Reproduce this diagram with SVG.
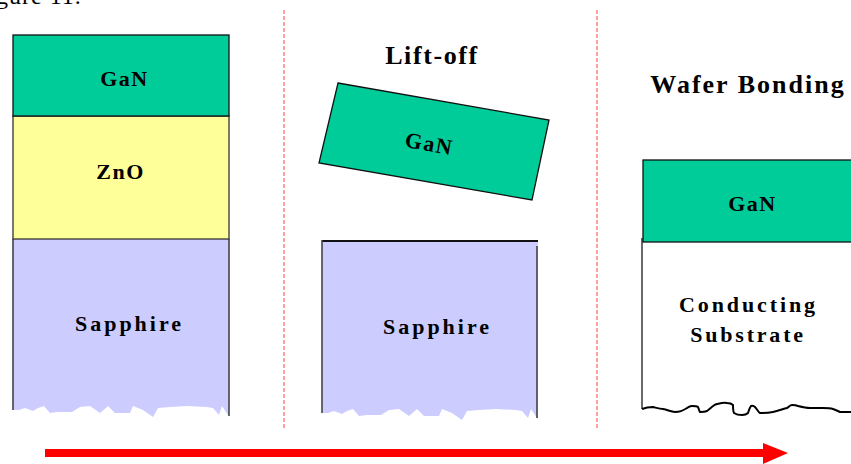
<svg xmlns="http://www.w3.org/2000/svg" width="851" height="464" viewBox="0 0 851 464">
<style>
.lbl{font-family:"Liberation Serif","Times New Roman",serif;font-weight:bold;fill:#000;text-anchor:middle}
.gan{fill:#00CC99;stroke:#111;stroke-width:1.3}
.zno{fill:#FFFF99;stroke:#333;stroke-width:1.3}
.sap{fill:#CCCCFF;stroke:none}
.edge{stroke:#444;stroke-width:1.6;fill:none}
.sep{stroke:#FF8080;stroke-width:1.5;stroke-dasharray:4 2;fill:none}
</style>
<defs>
<path id="jag" d="M0,0 H216 V177 L215,176 L209,167 L206,176 L200,169 L194,168 L174,167 L157,168 L145,169 L140,178 L130,171 L120,167 L117,174 L102,174 L95,167 L87,174 L77,167 L67,168 L59,173 L45,173 L37,174 L31,167 L25,169 L20,172 L12,169 L6,171 L0,171 Z"/>
</defs>
<text x="-4" y="4" style="font-family:'Liberation Serif',serif;font-size:24px;letter-spacing:1px;fill:#000">gure 11.</text>
<g id="separators">
<line class="sep" x1="284" y1="10" x2="284" y2="428"/>
<line class="sep" x1="597" y1="10" x2="597" y2="428"/>
</g>
<g id="panel1">
<g id="sapphire1">
<use href="#jag" x="13" y="239" class="sap"/>
<line class="edge" x1="13" y1="239" x2="13" y2="410"/>
<line class="edge" x1="229" y1="239" x2="229" y2="416"/>
<text class="lbl" x="129.5" y="331" style="font-size:22px;letter-spacing:3px">Sapphire</text>
</g>
<g id="zno1">
<rect class="zno" x="13" y="116" width="216" height="123"/>
<text class="lbl" x="120.5" y="179" style="font-size:22px;letter-spacing:1.5px">ZnO</text>
</g>
<g id="gan1">
<rect class="gan" x="13" y="35" width="216" height="81"/>
<text class="lbl" x="124.5" y="86" style="font-size:22px;letter-spacing:1.5px">GaN</text>
</g>
</g>
<g id="panel2">
<text class="lbl" x="432" y="64" style="font-size:26px;letter-spacing:1.6px">Lift-off</text>
<g id="gan2">
<polygon class="gan" points="338,83 549,120 532,200 319,163"/>
<text class="lbl" transform="translate(428,151) rotate(10)" x="0" y="0" style="font-size:22px;letter-spacing:1.5px">GaN</text>
</g>
<g id="sapphire2">
<use href="#jag" x="322" y="242" class="sap"/>
<line x1="322" y1="241" x2="538" y2="241" stroke="#111" stroke-width="2.2"/>
<line class="edge" x1="322" y1="240" x2="322" y2="413"/>
<line class="edge" x1="537" y1="246" x2="537" y2="418"/>
<text class="lbl" x="437.5" y="334" style="font-size:22px;letter-spacing:3px">Sapphire</text>
</g>
</g>
<g id="panel3">
<text class="lbl" x="748" y="93" style="font-size:26px;letter-spacing:2px">Wafer Bonding</text>
<g id="substrate">
<line class="edge" x1="642" y1="238" x2="642" y2="409"/>
<path d="M642,409 C647,407 650,407 653,407 C657,408 660,409 663,409 C668,410 671,412 675,412 C680,412 684,410 687,408 C689,407 690,406 692,406 C695,406 697,406 698,407 C699,409 699,411 700,412 C702,412 705,412 707,411 C710,409 713,405 717,404 C721,403 724,402 727,403 C730,403 732,404 733,405 C733,408 733,411 734,413 C737,415 740,415 742,415 C745,415 747,414 748,413 C749,410 750,407 751,406 C753,405 754,406 755,407 C757,409 758,412 760,413 C764,413 768,413 773,412 C778,411 783,409 787,408 C789,407 790,405 792,405 C794,405 796,405 798,406 C802,407 806,408 810,408 C815,408 819,408 823,408 C827,408 830,408 833,409 C836,410 838,411 840,412 C843,412 847,412 851,412" fill="none" stroke="#000" stroke-width="2"/>
<text class="lbl" x="748.5" y="312" style="font-size:22px;letter-spacing:2.9px">Conducting</text>
<text class="lbl" x="748" y="342" style="font-size:22px;letter-spacing:2.8px">Substrate</text>
</g>
<g id="gan3">
<rect class="gan" x="643" y="160" width="215" height="82"/>
<text class="lbl" x="752.5" y="211" style="font-size:22px;letter-spacing:1.5px">GaN</text>
</g>
</g>
<g id="connectors">
<rect x="45" y="449" width="720" height="8" fill="#FF0000"/>
<polygon points="763,443 788,453 763,464" fill="#FF0000"/>
</g>
</svg>
